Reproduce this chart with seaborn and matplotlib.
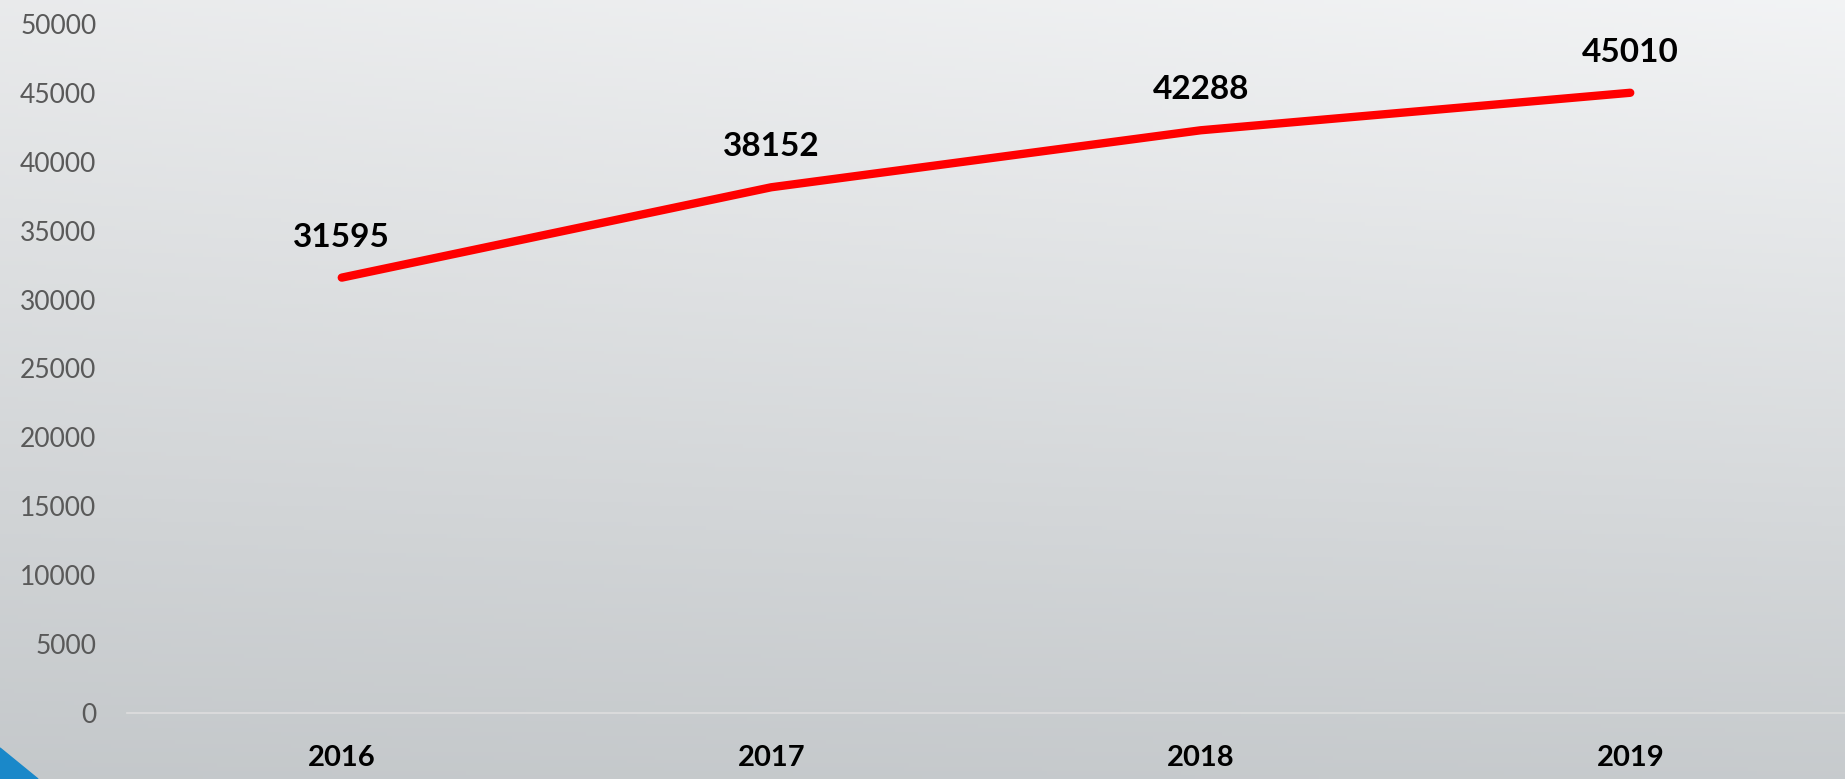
import numpy as np
import pandas as pd
import matplotlib
matplotlib.use("Agg")
import matplotlib.pyplot as plt
from matplotlib.patches import Polygon
import seaborn as sns

years = ["2016", "2017", "2018", "2019"]
values = [31595, 38152, 42288, 45010]
y_ticks = [0, 5000, 10000, 15000, 20000, 25000, 30000, 35000, 40000, 45000, 50000]

sns.set_style("white")
plt.rcParams['font.family'] = ['Lato', 'DejaVu Sans']

W, H = 1845, 779
fig = plt.figure(figsize=(W / 100, H / 100), dpi=100)

# background gradient
bg = fig.add_axes([0, 0, 1, 1], zorder=-10)
yy, xx = np.mgrid[0:1:200j, 0:1:400j]
top = np.array([0.925, 0.93, 0.935])
bot = np.array([0.78, 0.795, 0.805])
t = yy[..., None]
img = top * (1 - t) + bot * t
img = img + 0.025 * xx[..., None] * (1 - t) - 0.01 * (1 - xx[..., None])
img = np.clip(img, 0, 1)
bg.imshow(img, aspect="auto", extent=[0, 1, 0, 1], origin="upper")
bg.add_patch(Polygon([[0, 0], [38 / W, 0], [0, 31 / H]], closed=True,
                     color="#1a88c9", transform=bg.transAxes))
bg.set_axis_off()

ax = fig.add_axes([127 / W, (H - 713) / H, 1 - 127 / W, (713 - 24) / H])
ax.patch.set_alpha(0)
df = pd.DataFrame({"year": years, "value": values})
sns.lineplot(data=df, x="year", y="value", ax=ax, color="#ff0000", linewidth=6,
             solid_capstyle="round", sort=False)
ax.set_xlim(-0.5, 3.5)
ax.set_ylim(0, 50000)
ax.set_yticks(y_ticks)
ax.set_yticklabels([str(v) for v in y_ticks], color="#595959", fontsize=19)
ax.tick_params(axis="y", length=0, pad=22)
ax.tick_params(axis="x", length=0, pad=23, labelsize=21)
for lbl in ax.get_xticklabels():
    lbl.set_fontweight("bold")
    lbl.set_color("black")
ax.set_xlabel("")
ax.set_ylabel("")
for s in ["top", "right", "left"]:
    ax.spines[s].set_visible(False)
ax.spines["bottom"].set_color("#dedede")
ax.spines["bottom"].set_linewidth(1.2)

for i, v in enumerate(values):
    ax.annotate(str(v), (i, v), xytext=(0, 29), textcoords="offset points",
                ha="center", va="center", fontsize=24, fontweight="bold", color="black")

fig.savefig("out.png", dpi=100)
